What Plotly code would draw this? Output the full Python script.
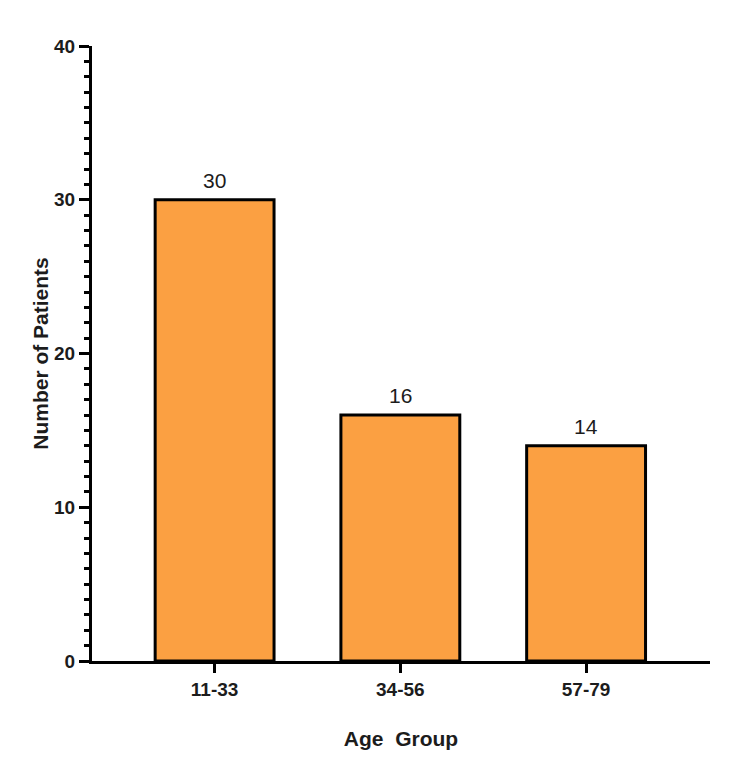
import plotly.graph_objects as go

categories = ["11-33", "34-56", "57-79"]
patients = [30, 16, 14]

FONT = "Arial, Liberation Sans, sans-serif"
TXT = "#1c1c1c"

fig = go.Figure(
    go.Bar(
        x=categories,
        y=patients,
        width=0.64,
        marker=dict(color="#FBA042", line=dict(color="black", width=3)),
        showlegend=False,
        hoverinfo="skip",
    )
)

# value labels above bars
for c, v in zip(categories, patients):
    fig.add_annotation(
        x=c, y=v, text=str(v), showarrow=False,
        yanchor="bottom", yshift=6,
        font=dict(family=FONT, size=21, color=TXT),
    )

fig.update_layout(
    width=750,
    height=778,
    margin=dict(l=92, r=40, t=46, b=117),
    plot_bgcolor="white",
    paper_bgcolor="white",
    showlegend=False,
    font=dict(family=FONT, color=TXT),
)

fig.update_xaxes(
    range=[-0.66, 2.667],
    showline=True,
    linecolor="black",
    linewidth=3,
    ticks="outside",
    ticklen=9,
    tickwidth=3,
    tickcolor="black",
    tickfont=dict(family=FONT, size=19, color=TXT, weight="bold"),
    title=dict(text="Age  Group", font=dict(family=FONT, size=21, color=TXT, weight="bold"), standoff=33),
    showgrid=False,
    zeroline=False,
)

fig.update_yaxes(
    range=[0, 40],
    dtick=10,
    showline=True,
    linecolor="black",
    linewidth=3,
    ticks="outside",
    ticklen=10,
    tickwidth=3,
    tickcolor="black",
    minor=dict(dtick=1, ticks="outside", ticklen=5, tickwidth=2.5, tickcolor="black", showgrid=False),
    tickfont=dict(family=FONT, size=19, color=TXT, weight="bold"),
    title=dict(text="Number of Patients", font=dict(family=FONT, size=21, color=TXT, weight="bold"), standoff=0),
    showgrid=False,
    zeroline=False,
)

fig.write_html("out.html")
